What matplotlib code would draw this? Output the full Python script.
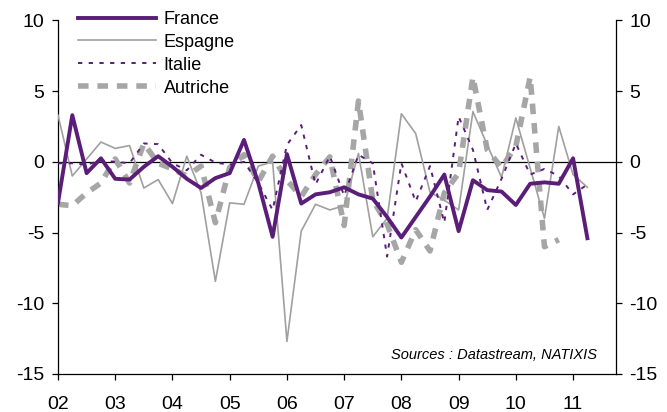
import matplotlib
matplotlib.use("Agg")
import matplotlib.pyplot as plt
import numpy as np

plt.rcParams['font.family'] = ['Liberation Sans', 'DejaVu Sans']
plt.rcParams['axes.unicode_minus'] = False

# Quarterly data, 2002Q1 onwards
year_labels = ["02", "03", "04", "05", "06", "07", "08", "09", "10", "11"]

france = [-2.9, 3.3, -0.8, 0.25, -1.2, -1.25, -0.35, 0.4, -0.35, -1.2,
          -1.85, -1.15, -0.8, 1.55, -1.5, -5.3, 0.55, -2.95, -2.3, -2.15,
          -1.8, -2.3, -2.6, -3.9, -5.35, -3.9, -2.45, -0.9, -4.9, -1.3,
          -2.0, -2.1, -3.05, -1.55, -1.45, -1.55, 0.25, -5.4]

espagne = [3.3, -1.0, 0.2, 1.4, 0.95, 1.15, -1.85, -1.25, -2.95, 0.4,
           -2.2, -8.45, -2.9, -3.0, -0.3, 0.0, -12.7, -4.9, -3.0, -3.4,
           -3.1, 0.6, -5.3, -4.0, 3.4, 2.0, -2.15, -2.7, -3.4, 3.55,
           1.2, -1.1, 3.1, -0.45, -4.0, 2.5, -0.9, -1.8]

italie = [-0.1, -0.1, -0.2, 0.1, 0.0, -0.1, 1.3, 1.25, -0.1, -0.6,
          0.5, -0.05, -0.2, 0.0, -1.5, -3.4, 1.2, 2.6, -1.6, 0.4,
          -2.4, 0.5, -0.1, -6.7, -0.1, -2.8, -0.3, -4.3, 3.2, 0.85,
          -3.4, -1.2, 1.3, -0.9, -0.5, -1.0, -2.3, -1.6]

autriche = [-3.0, -3.1, -2.2, -1.5, 0.2, -1.5, 1.3, -0.1, -0.5, -1.0,
            -0.3, -4.3, -0.4, 0.5, -1.4, 0.4, -1.3, -2.45, -0.9, 0.35,
            -4.5, 4.3, -2.7, -4.4, -7.1, -4.8, -6.3, -2.2, -0.8, 6.0,
            0.85, -0.4, 1.1, 6.0, -6.0, -5.5]

purple = '#5A1E78'
gray = '#A0A0A0'

fig = plt.figure(figsize=(6.67, 4.12), dpi=100)
ax = fig.add_axes([58/667, 1-374/412, (616-58)/667, (374-20.4)/412])

x_f = np.arange(len(france))
x_e = np.arange(len(espagne))
x_i = np.arange(len(italie))
x_a = np.arange(len(autriche))

ax.axhline(0, color='black', lw=0.9, zorder=1)

ax.plot(x_a, autriche, color='#A6A6A6', lw=4.0, dashes=(1.9, 1.6), label='Autriche', zorder=2)
ax.plot(x_e, espagne, color=gray, lw=1.2, label='Espagne', zorder=3)
ax.plot(x_i, italie, color=purple, lw=1.4, dashes=(2.2, 3.3), label='Italie', zorder=4)
ax.plot(x_f, france, color=purple, lw=2.8, label='France', zorder=5)

ax.set_xlim(0, 39)
ax.set_ylim(-15, 10)
ax.set_yticks([-15, -10, -5, 0, 5, 10])
ax.set_xticks(np.arange(len(year_labels)) * 4)
ax.set_xticklabels(year_labels)

ax.spines['top'].set_visible(False)
for s in ['left', 'right', 'bottom']:
    ax.spines[s].set_linewidth(0.9)
    ax.spines[s].set_color('black')

ax.tick_params(axis='y', which='both', direction='out', length=4.3, width=0.9,
               labelsize=14, left=True, right=True, labelleft=True, labelright=True, pad=5.5)
ax.tick_params(axis='x', direction='out', length=4, width=0.9, labelsize=14, pad=12)

handles, labels = ax.get_legend_handles_labels()
order = [labels.index(n) for n in ['France', 'Espagne', 'Italie', 'Autriche']]
leg = ax.legend([handles[i] for i in order], [labels[i] for i in order],
                loc='upper left', bbox_to_anchor=(20/558, 1.027), frameon=False,
                borderaxespad=0, borderpad=0,
                fontsize=13, handlelength=4.3, labelspacing=0.33, handletextpad=0.45)

ax.text(0.966, 0.054, 'Sources : Datastream, NATIXIS', transform=ax.transAxes,
        ha='right', va='center', fontsize=10.5, style='italic')

fig.savefig('out.png', dpi=100)
